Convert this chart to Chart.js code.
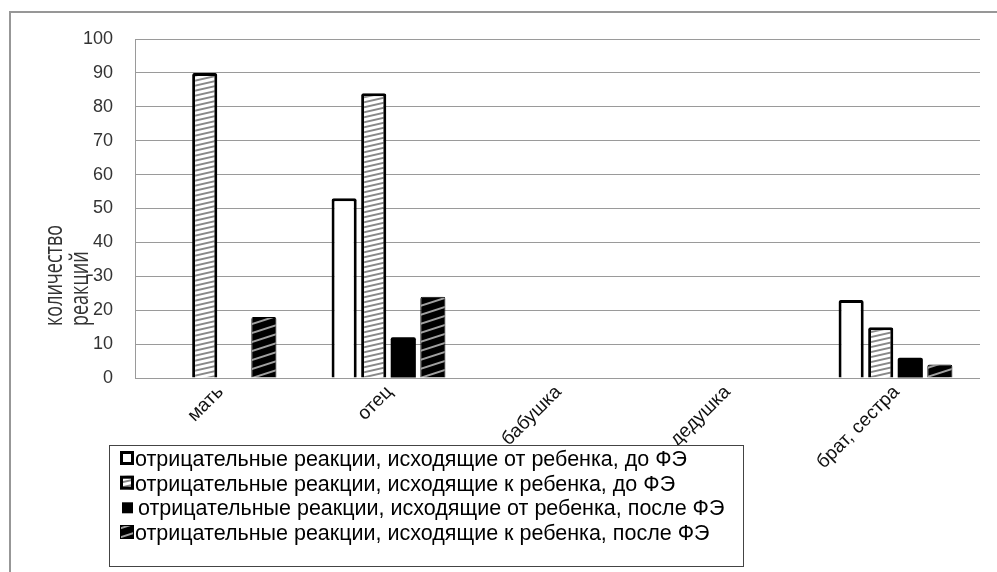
<!DOCTYPE html>
<html><head><meta charset="utf-8">
<script src="https://cdn.jsdelivr.net/npm/chart.js@4/dist/chart.umd.min.js"></script>
<style>html,body{margin:0;padding:0;background:#fff;overflow:hidden}#wrap{width:997px;height:572px;position:relative}</style>
</head><body><div id="wrap"><canvas id="c" width="997" height="572"></canvas></div>
<script>
const categories = ['мать', 'отец', 'бабушка', 'дедушка', 'брат, сестра'];
const seriesLabels = [
  'отрицательные реакции, исходящие от ребенка, до ФЭ',
  'отрицательные реакции, исходящие к ребенка, до ФЭ',
  'отрицательные реакции, исходящие от ребенка, после ФЭ',
  'отрицательные реакции, исходящие к ребенка, после ФЭ'
];
const fromChildBefore = [null, 53, null, null, 23];
const toChildBefore   = [90, 84, null, null, 15];
const fromChildAfter  = [null, 12, null, null, 6];
const toChildAfter    = [18, 24, null, null, 4];
const yAxisTitle = ['количество', 'реакций'];
const yMin = 0, yMax = 100, yStep = 10;

const cv = document.getElementById('c');
const ctx = cv.getContext('2d');

function makeHatch(w, h, bg, fg, lw) {
  const c = document.createElement('canvas');
  c.width = w; c.height = h;
  const g = c.getContext('2d');
  g.fillStyle = bg; g.fillRect(0, 0, w, h);
  g.strokeStyle = fg; g.lineWidth = lw;
  for (const dy of [-h, 0, h]) {
    g.beginPath(); g.moveTo(-1, h + dy + h / w); g.lineTo(w + 1, dy - h / w); g.stroke();
  }
  return ctx.createPattern(c, 'repeat');
}
const lightHatch = makeHatch(22, 5, '#ffffff', '#888888', 1.9);
const darkHatch = makeHatch(28, 9, '#000000', '#a0a0a0', 2);

const fills = ['#ffffff', lightHatch, '#000000', darkHatch];
const borders = [3, 3, 0, 1];

const frame = {
  id: 'frame',
  beforeDraw(chart) {
    const c = chart.ctx;
    c.save();
    c.fillStyle = '#fff'; c.fillRect(0, 0, chart.width, chart.height);
    c.strokeStyle = '#979797'; c.lineWidth = 2;
    c.strokeRect(10, 12, 1100, 700);
    c.restore();
  },
  afterDraw(chart) {
    const c = chart.ctx;
    // axis title
    c.save();
    c.fillStyle = '#333';
    c.font = '18px "Open Sans"';
    c.textAlign = 'left'; c.textBaseline = 'middle';
    const xs = [55, 81];
    yAxisTitle.forEach((t, i) => {
      c.save();
      c.translate(xs[i], 326);
      c.rotate(-Math.PI / 2);
      c.scale(1, 1.45);
      c.fillText(t, 0, 0);
      c.restore();
    });
    c.restore();
    // legend
    c.save();
    c.fillStyle = '#fff';
    c.fillRect(109, 445, 634, 121);
    c.strokeStyle = '#444'; c.lineWidth = 1;
    c.strokeRect(109.5, 445.5, 634, 121);
    const base = [466, 490.7, 515.3, 540];
    c.font = '21.5px "Liberation Sans"';
    c.textAlign = 'left'; c.textBaseline = 'alphabetic';
    chart.data.datasets.forEach((ds, i) => {
      const b = base[i];
      if (i === 2) {
        c.fillStyle = '#000';
        c.fillRect(122, b - 13, 11, 11);
      } else {
        c.fillStyle = ds.backgroundColor;
        c.fillRect(120, b - 15, 14, 14);
        c.strokeStyle = '#000'; c.lineWidth = i === 3 ? 1 : 3;
        const o = c.lineWidth / 2;
        c.strokeRect(120 + o, b - 15 + o, 14 - 2 * o, 14 - 2 * o);
      }
      c.fillStyle = '#000';
      c.fillText(ds.label, i === 2 ? 138 : 135, b);
    });
    c.restore();
  }
};

new Chart(cv, {
  type: 'bar',
  data: {
    labels: categories,
    datasets: [fromChildBefore, toChildBefore, fromChildAfter, toChildAfter].map((d, i) => ({
      label: seriesLabels[i],
      data: d,
      backgroundColor: fills[i],
      borderColor: '#000',
      borderWidth: borders[i],
      borderRadius: 2,
      borderSkipped: 'start',
      categoryPercentage: 0.7,
      barPercentage: 0.85
    }))
  },
  options: {
    responsive: false,
    animation: false,
    events: [],
    layout: { padding: { left: 0, top: 39, right: 17, bottom: 0 } },
    plugins: { legend: { display: false }, tooltip: { enabled: false }, title: { display: false } },
    scales: {
      x: {
        grid: { display: false, drawTicks: false },
        border: { display: false },
        ticks: { minRotation: 45, maxRotation: 45, autoSkip: false, padding: 3, labelOffset: 1, color: '#111',
                 font: { family: 'Liberation Sans', size: 19 } },
        afterFit(s) { s.height = 194; }
      },
      y: {
        min: yMin, max: yMax,
        grid: { color: '#9a9a9a', lineWidth: 1, drawTicks: false },
        border: { display: true, color: '#9a9a9a', width: 1 },
        ticks: { stepSize: yStep, padding: 22, color: '#333',
                 font: { family: 'Liberation Sans', size: 18 } },
        afterFit(s) { s.width = 135; }
      }
    }
  },
  plugins: [frame]
});
</script></body></html>
